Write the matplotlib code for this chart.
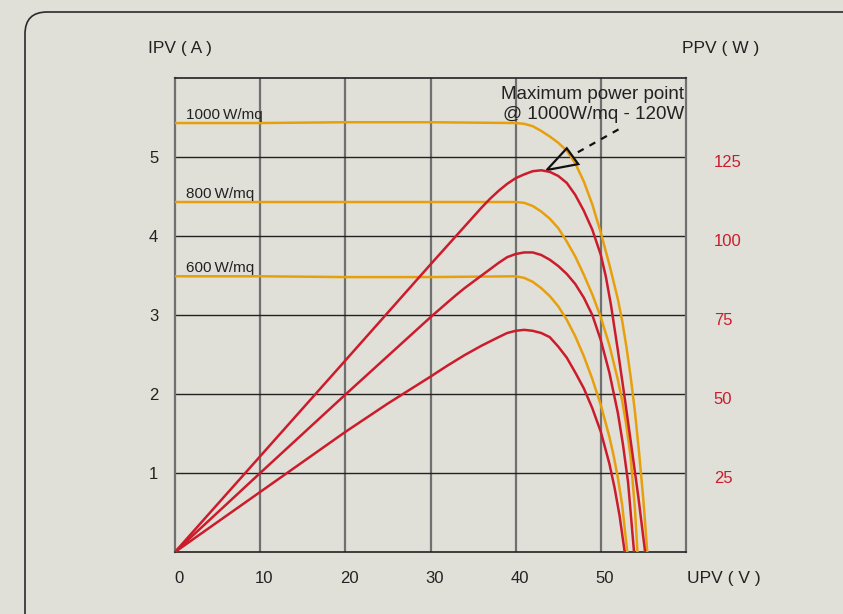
import matplotlib
matplotlib.use("Agg")
import matplotlib.pyplot as plt
from matplotlib.patches import FancyBboxPatch, Polygon
from matplotlib.transforms import ScaledTranslation

plt.rcParams['font.family'] = ['Liberation Sans', 'DejaVu Sans']

# I-V curves (A)
v_i1000 = [0, 10, 20, 30, 40, 41, 42, 43, 44, 45, 46, 47, 48, 49, 50, 51, 52, 52.5, 53, 53.5, 54, 54.5, 55, 55.45]
i1000 = [5.43, 5.43, 5.44, 5.44, 5.43, 5.42, 5.39, 5.33, 5.26, 5.18, 5.08, 4.92, 4.69, 4.40, 4.04, 3.64,
         3.20, 2.93, 2.60, 2.22, 1.78, 1.25, 0.65, 0]
v_i800 = [0, 10, 20, 30, 40, 41, 42, 43, 44, 45, 46, 47, 48, 49, 50, 51, 52, 52.5, 53, 53.5, 54, 54.3]
i800 = [4.43, 4.43, 4.43, 4.43, 4.43, 4.42, 4.38, 4.31, 4.22, 4.10, 3.93, 3.74, 3.51, 3.26, 2.97, 2.62,
        2.18, 1.92, 1.60, 1.20, 0.55, 0]
v_i600 = [0, 10, 20, 30, 40, 41, 42, 43, 44, 45, 46, 47, 48, 49, 50, 51, 51.5, 52, 52.5, 53.1]
i600 = [3.49, 3.49, 3.48, 3.48, 3.49, 3.47, 3.42, 3.34, 3.24, 3.11, 2.94, 2.73, 2.48, 2.19, 1.86, 1.46,
        1.22, 0.94, 0.60, 0]

# P-V curves (W)
v_p1000 = [0, 10, 20, 30, 33, 34, 35, 36, 37, 38, 39, 40, 41, 42, 43, 44, 45, 46, 47, 48, 49, 50,
           50.6, 51.2, 52.0, 52.8, 53.6, 54.4, 55.2]
p1000 = [0, 30.3, 60.6, 91, 100, 103, 106, 109, 111.8, 114.3, 116.5, 118.3, 119.5, 120.5, 120.8, 120.3,
         119, 116.8, 113, 108, 102, 94, 87, 78, 63.8, 48.8, 33.3, 17.5, 0]
v_p800 = [0, 10, 20, 30, 32, 33, 34, 35, 36, 37, 38, 39, 40, 41, 42, 43, 44, 45, 46, 47, 48, 49, 50,
          51, 52, 52.6, 53.2, 53.9]
p800 = [0, 25, 49.8, 74.3, 79, 81.3, 83.5, 85.5, 87.5, 89.5, 91.5, 93.3, 94.3, 94.8, 94.8, 94, 92.5,
        90.5, 88, 84.8, 80.5, 75, 67, 56.8, 44, 34, 22, 0]
v_p600 = [0, 10, 20, 25, 30, 32, 34, 36, 38, 39, 40, 41, 42, 43, 44, 45, 46, 47, 48, 49, 50, 51,
          51.6, 52.2, 52.8]
p600 = [0, 19, 38, 47, 55.5, 59, 62.3, 65.3, 68, 69.3, 70, 70.3, 70, 69.3, 68, 65, 61.5, 56.8, 51.8,
        45.5, 38, 28, 20.5, 11.5, 0]

curve_labels = ["1000\u2009W/mq", "800\u2009W/mq", "600\u2009W/mq"]
x_ticks = [0, 10, 20, 30, 40, 50]
y_ticks = [1, 2, 3, 4, 5]
p_ticks = [25, 50, 75, 100, 125]

bg = '#e0e0d9'
orange = '#e89f0c'
red = '#cc1c2c'

fig = plt.figure(figsize=(8.43, 6.14), dpi=100, facecolor=bg)
fig.add_artist(FancyBboxPatch((0.25, -0.5), 9.0, 6.52,
                              boxstyle='round,pad=0,rounding_size=0.22',
                              transform=fig.dpi_scale_trans,
                              fc='none', ec='#2a2a2a', lw=1.2))

ax = fig.add_axes([175/843, 62/614, 511/843, 474/614])
ax.set_facecolor(bg)
ax.set_xlim(0, 60)
ax.set_ylim(0, 6)

for x in x_ticks[1:]:
    ax.axvline(x, color='#707070', lw=1.6, zorder=1)
for y in y_ticks:
    ax.axhline(y, color='#222222', lw=1.0, zorder=1)
for s in ['left', 'right']:
    ax.spines[s].set_color('#707070')
    ax.spines[s].set_linewidth(1.6)
for s in ['top', 'bottom']:
    ax.spines[s].set_color('#222222')
    ax.spines[s].set_linewidth(1.2)

for v, i, lab in zip([v_i1000, v_i800, v_i600], [i1000, i800, i600], curve_labels):
    ax.plot(v, i, color=orange, lw=1.8, zorder=3, solid_joinstyle='round')
    ax.text(1.3, i[0] + 0.05, lab, fontsize=11, color='#222222', va='baseline', ha='left')

ax.set_xticks(x_ticks)
ax.set_xticklabels([str(x) for x in x_ticks], fontsize=12, color='#222222')
ax.set_yticks(y_ticks)
ax.set_yticklabels([str(y) for y in y_ticks], fontsize=12, color='#222222')
ax.tick_params(axis='x', length=0, pad=14)
ax.tick_params(axis='y', length=0, pad=12)
for lbl in ax.get_xticklabels():
    lbl.set_transform(lbl.get_transform() + ScaledTranslation(0.04, 0, fig.dpi_scale_trans))

# maximum power point annotation
ax.add_patch(Polygon([(46.0, 5.11), (47.35, 4.91), (43.65, 4.835)], closed=True,
                     fill=False, ec='#111111', lw=1.6, zorder=5))
ax.plot([47.3, 52.25], [5.06, 5.36], color='#111111', lw=1.6, ls=(0, (3, 3)), zorder=5)
ax.text(59.8, 5.90, "Maximum power point\n@ 1000W/mq - 120W", ha='right', va='top',
        fontsize=13.5, color='#222222', linespacing=1.25, zorder=5)

ax2 = ax.twinx()
ax2.set_ylim(0, 150)
ax2.patch.set_visible(False)
for s in ax2.spines.values():
    s.set_visible(False)
for v, p in zip([v_p1000, v_p800, v_p600], [p1000, p800, p600]):
    ax2.plot(v, p, color=red, lw=1.8, zorder=4, solid_joinstyle='round')
ax2.set_yticks(p_ticks)
ax2.set_yticklabels([str(p) for p in p_ticks], fontsize=12, color=red)
ax2.tick_params(axis='y', length=0, pad=20)
for lbl in ax2.get_yticklabels():
    lbl.set_transform(lbl.get_transform() + ScaledTranslation(0, -0.04, fig.dpi_scale_trans))

fig.text(148/843, 1 - 48/614, "IPV ( A )", fontsize=12.5, color='#222222', va='center', ha='left')
fig.text(682/843, 1 - 48/614, "PPV ( W )", fontsize=12.5, color='#222222', va='center', ha='left')
fig.text(687/843, 1 - 578/614, "UPV ( V )", fontsize=12.5, color='#222222', va='center', ha='left')

fig.savefig("out.png", dpi=100, facecolor=bg)
